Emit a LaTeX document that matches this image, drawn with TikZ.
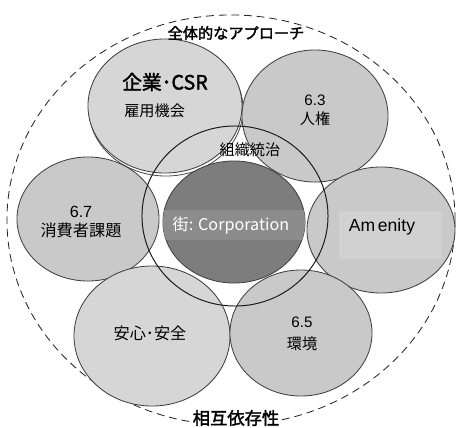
\documentclass[tikz,border=0pt]{standalone}
\usepackage{fontspec}
\setmainfont{Liberation Sans}
\newfontfamily\jp{Noto Sans CJK JP}
\newfontfamily\jpbold[FakeBold=2]{Noto Sans CJK JP}
\usetikzlibrary{shapes.geometric}
\definecolor{topicgray}{gray}{0.79}
\definecolor{palegray}{gray}{0.84}
\definecolor{boxgray}{gray}{0.82}
\definecolor{citygray}{gray}{0.49}
\definecolor{bandgray}{gray}{0.55}

\begin{document}
\begin{tikzpicture}[x=0.025cm, y=-0.025cm,
    topic/.style={ellipse, draw=black!75, fill=topicgray, inner sep=0pt, line width=0.6pt},
    txt/.style={font=\jp\fontsize{10.8}{13.5}\selectfont, align=center, inner sep=0pt}]
    \useasboundingbox (0,0) rectangle (456,428);
    % outer ring
    \node[ellipse, draw=black!85, line width=0.6pt, dash pattern=on 5.5pt off 3.5pt,
          minimum width=11.2cm, minimum height=10.25cm, inner sep=0pt]
          (ring) at (231,220) {};
    % topic ellipses
    \node[ellipse, draw=black!70, line width=0.6pt, minimum width=3.85cm, minimum height=3.35cm,
          inner sep=0pt] (csrshadow) at (166,109) {};
    \node[topic, fill=palegray, minimum width=3.85cm, minimum height=3.35cm] (csr) at (165,106) {};
    \node[topic, minimum width=3.65cm, minimum height=3.3cm] (hr) at (315,116) {};
    \node[topic, minimum width=3.55cm, minimum height=3.1cm] (cons) at (88,219) {};
    \node[topic, minimum width=3.7cm, minimum height=3.15cm] (amen) at (381,230) {};
    \node[topic, fill=palegray, minimum width=3.9cm, minimum height=3.5cm] (safe) at (152,336) {};
    \node[topic, minimum width=3.55cm, minimum height=3.15cm] (env) at (301,333) {};
    % centre
    \node[topic, fill=citygray, minimum width=3.55cm, minimum height=3.05cm] (city) at (234,222) {};
    \begin{scope}
        \clip (city.center) ellipse [x radius=1.775cm, y radius=1.525cm];
        \fill[bandgray] (160,210) rectangle (310,240);
    \end{scope}
    \node[txt, white, font=\jp\fontsize{11.5}{13}\selectfont] (citytext) at (231,226) {街: Corporation};
    \node[fill=boxgray, minimum width=2.575cm, minimum height=1.2cm, inner sep=0pt] (amenbox) at (390.5,235) {};
    \node[txt, font=\fontsize{12.5}{14}\selectfont] (amentext) at (382,227) {Am\hspace{0.15em}enity};
    % governance ring
    \node[ellipse, draw=black!90, line width=0.7pt, minimum width=4.65cm, minimum height=4.5cm,
          inner sep=0pt] (gov) at (235,216) {};
    \node[txt] (govtext) at (250,150) {組織統治};
    % texts
    \node[txt, anchor=west, font=\jpbold\fontsize{14}{16}\selectfont] (csrtitle) at (122,82) {企業･CSR};
    \node[txt, anchor=west] (csrjob) at (124,111) {雇用機会};
    \node[txt] (hrtext) at (315,110) {\rmfamily 6.3\\人権};
    \node[txt, font=\jp\fontsize{11.5}{13}\selectfont] (constext) at (81,222) {\rmfamily 6.7\\消費者課題};
    \node[txt, font=\jp\fontsize{11.5}{13}\selectfont] (safetext) at (150,333) {安心･安全};
    \node[txt] (envtext) at (302,334) {\rmfamily 6.5\\[2pt]環境};
    \node[txt, font=\jpbold\fontsize{10.8}{12}\selectfont] (approach) at (236,33) {全体的なアプローチ};
    \node[txt, fill=white, inner sep=1pt, font=\jpbold\fontsize{12.3}{14}\selectfont] (interdep) at (236,418) {相互依存性};
\end{tikzpicture}
\end{document}
